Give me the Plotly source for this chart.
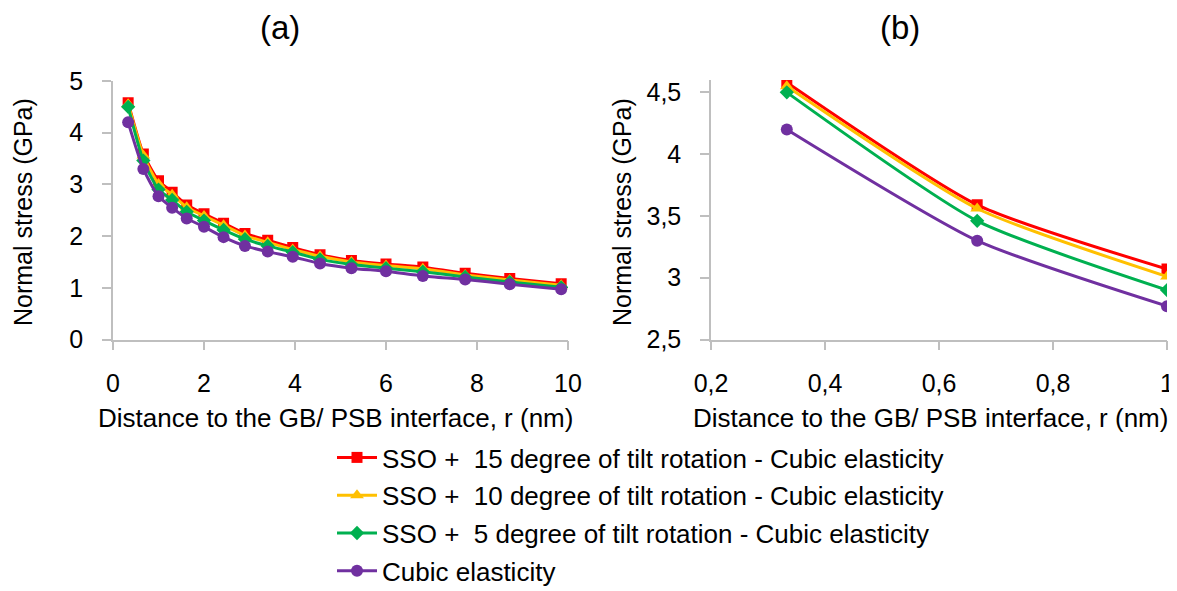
import plotly.graph_objects as go

# ---------------- data ----------------
r_nm = [0.333, 0.667, 1.0, 1.3, 1.62, 2.0, 2.43, 2.9, 3.4, 3.95, 4.55, 5.24, 6.0, 6.81, 7.74, 8.72, 9.85]
sso15 = [4.58, 3.59, 3.07, 2.85, 2.60, 2.43, 2.25, 2.05, 1.92, 1.78, 1.64, 1.53, 1.46, 1.40, 1.28, 1.18, 1.08]
sso10 = [4.55, 3.56, 3.01, 2.80, 2.56, 2.39, 2.21, 2.01, 1.88, 1.74, 1.61, 1.50, 1.43, 1.37, 1.25, 1.15, 1.05]
sso5 = [4.50, 3.46, 2.90, 2.70, 2.47, 2.30, 2.12, 1.94, 1.81, 1.69, 1.55, 1.45, 1.38, 1.31, 1.21, 1.11, 1.01]
cubic = [4.20, 3.30, 2.77, 2.55, 2.34, 2.18, 1.98, 1.81, 1.70, 1.60, 1.47, 1.38, 1.32, 1.23, 1.16, 1.07, 0.97]

series_names = [
    "SSO +  15 degree of tilt rotation - Cubic elasticity",
    "SSO +  10 degree of tilt rotation - Cubic elasticity",
    "SSO +  5 degree of tilt rotation - Cubic elasticity",
    "Cubic elasticity",
]
series_values = [sso15, sso10, sso5, cubic]
n_zoom = 3  # panel (b) shows the first three distances

panel_titles = ["(a)", "(b)"]
x_title = "Distance to the GB/ PSB interface, r (nm)"
y_title = "Normal stress (GPa)"

# ---------------- styles ----------------
colors = ["#FF0000", "#FFC000", "#00B050", "#7030A0"]
symbols = ["square", "triangle-up", "diamond", "circle"]
msizes = [11, 12, 11, 12]
FONT = "Liberation Sans, Arial, sans-serif"
AX = "#BFBFBF"
FS = 25

# the page body has an 8 px margin; the figure fills the rest of the window
OFF = 8
W, H = 1177 - OFF, 591 - OFF
def px_x(p):
    return (p - OFF) / W
def px_y(p):
    return (H - (p - OFF)) / H

fig = go.Figure()
for i, (name, vals) in enumerate(zip(series_names, series_values)):
    fig.add_trace(go.Scatter(
        x=r_nm, y=vals, name=name, mode="lines+markers",
        line=dict(color=colors[i], width=3, shape="spline", smoothing=0.6),
        marker=dict(symbol=symbols[i], size=msizes[i], color=colors[i]),
        xaxis="x", yaxis="y", legendgroup=f"g{i}", showlegend=True,
    ))
for i, (name, vals) in enumerate(zip(series_names, series_values)):
    fig.add_trace(go.Scatter(
        x=r_nm[:n_zoom], y=vals[:n_zoom], name=name, mode="lines+markers",
        line=dict(color=colors[i], width=3, shape="spline", smoothing=0.6),
        marker=dict(symbol=symbols[i], size=msizes[i], color=colors[i]),
        xaxis="x2", yaxis="y2", legendgroup=f"g{i}", showlegend=False,
    ))

dom_x1 = [px_x(113), px_x(568)]
dom_x2 = [px_x(711), px_x(1167)]
dom_y1 = [px_y(339.5), px_y(81)]
dom_y2 = [px_y(339.5), px_y(80)]

tickfont = dict(family=FONT, size=FS, color="#000000")
common = dict(showline=True, linecolor=AX, linewidth=1.5, ticks="outside",
              ticklen=9, tickcolor=AX, tickwidth=1.5, showgrid=False,
              zeroline=False, tickfont=tickfont, automargin=False)
inner = dict(showline=False, ticks="inside", ticklen=9, tickcolor=AX,
             tickwidth=1.5, showgrid=False, zeroline=False,
             showticklabels=False, automargin=False)

fig.update_layout(
    width=W, height=H,
    margin=dict(l=0, r=0, t=0, b=0, autoexpand=False),
    paper_bgcolor="white", plot_bgcolor="white",
    separators=",.",
    font=dict(family=FONT, size=FS, color="#000000"),
    xaxis=dict(domain=dom_x1, anchor="y", range=[0, 10], dtick=2, tick0=0,
               ticklabelstandoff=12, **common),
    yaxis=dict(domain=dom_y1, anchor="x", range=[0, 5], dtick=1, tick0=0,
               ticklabelstandoff=14, **common),
    xaxis2=dict(domain=dom_x2, anchor="y2", range=[0.2, 1.0], dtick=0.2, tick0=0.2,
                ticklabelstandoff=12, **common),
    yaxis2=dict(domain=dom_y2, anchor="x2", range=[2.5, 4.6], dtick=0.5, tick0=2.5,
                ticklabelstandoff=14, **common),
    xaxis3=dict(overlaying="x", anchor="y", range=[0, 10], dtick=2, tick0=0, **inner),
    yaxis3=dict(overlaying="y", anchor="x", range=[0, 5], dtick=1, tick0=0, **inner),
    xaxis4=dict(overlaying="x2", anchor="y2", range=[0.2, 1.0], dtick=0.2, tick0=0.2, **inner),
    yaxis4=dict(overlaying="y2", anchor="x2", range=[2.5, 4.6], dtick=0.5, tick0=2.5, **inner),
    legend=dict(x=px_x(332), y=px_y(434), xanchor="left", yanchor="top",
                xref="container", yref="container",
                font=dict(family=FONT, size=26, color="#000000"),
                traceorder="grouped", tracegroupgap=1, itemwidth=40,
                bgcolor="rgba(0,0,0,0)"),
    showlegend=True,
)

ann = []
def add_text(text, x, y, size, angle=0):
    ann.append(dict(text=text, x=px_x(x), y=px_y(y), xref="paper", yref="paper",
                    xanchor="center", yanchor="middle", showarrow=False,
                    textangle=angle, font=dict(family=FONT, size=size, color="#000000")))

add_text(panel_titles[0], 280, 27, 33)
add_text(panel_titles[1], 900, 27, 33)
add_text(x_title, 335, 418, 26)
add_text(x_title, 930, 418, 26)
add_text(y_title, 23, 212, FS, -90)
add_text(y_title, 622, 212, FS, -90)
fig.update_layout(annotations=ann)

fig.write_html("out.html")
